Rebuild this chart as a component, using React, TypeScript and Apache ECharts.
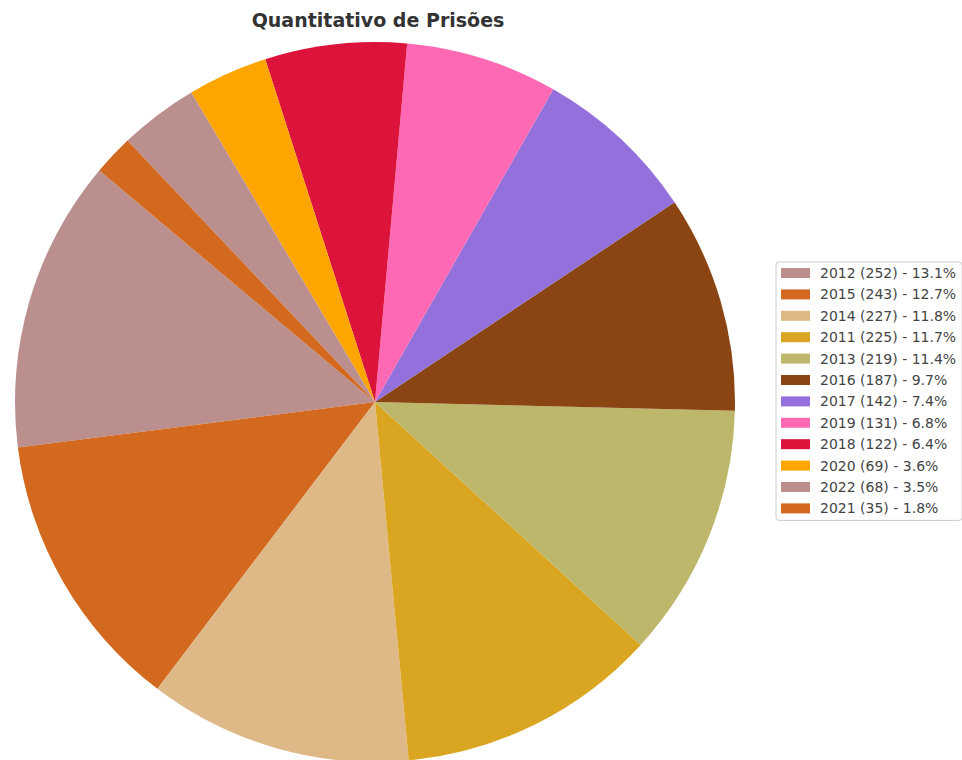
import React, { useEffect, useRef } from "react";
import * as echarts from "echarts";

const years = ["2012", "2015", "2014", "2011", "2013", "2016", "2017", "2019", "2018", "2020", "2022", "2021"];
const counts = [252, 243, 227, 225, 219, 187, 142, 131, 122, 69, 68, 35];
const colors = ["#BC8F8F", "#D2691E", "#DEB887", "#DAA520", "#BDB76B", "#8B4513", "#9370DB", "#FF69B4", "#DC143C", "#FFA500", "#BC8F8F", "#D2691E"];
const title = "Quantitativo de Prisões";

export default function App() {
  const ref = useRef<HTMLDivElement>(null);
  useEffect(() => {
    if (!ref.current) return;
    const chart = echarts.init(ref.current, null, { renderer: "svg" });
    const total = counts.reduce((a, b) => a + b, 0);
    const labels = years.map((y, i) => `${y} (${counts[i]}) - ${((counts[i] / total) * 100).toFixed(1)}%`);
    chart.setOption({
      animation: false,
      title: {
        text: title,
        left: 373,
        textAlign: "center",
        top: 5,
        textStyle: { fontFamily: "DejaVu Sans", fontSize: 19, fontWeight: "bold", color: "#333" },
      },
      legend: {
        orient: "vertical",
        left: 776,
        top: 262,
        padding: [3, 6, 4, 5],
        borderColor: "#cccccc",
        borderWidth: 1,
        borderRadius: 3,
        itemWidth: 29,
        itemHeight: 10,
        itemGap: 5.4,
        icon: "rect",
        data: labels,
        textStyle: { fontFamily: "DejaVu Sans", fontSize: 14, color: "#444", lineHeight: 16, padding: [0, 0, 0, 5] },
      },
      series: [
        {
          type: "pie",
          center: [375, 402],
          radius: 360,
          startAngle: 140,
          clockwise: false,
          label: { show: false },
          labelLine: { show: false },
          emphasis: { disabled: true },
          data: labels.map((name, i) => ({ name, value: counts[i], itemStyle: { color: colors[i] } })),
        },
      ],
    });
    return () => chart.dispose();
  }, []);
  return <div ref={ref} style={{ width: 962, height: 760, position: "absolute", left: 0, top: 0 }} />;
}
